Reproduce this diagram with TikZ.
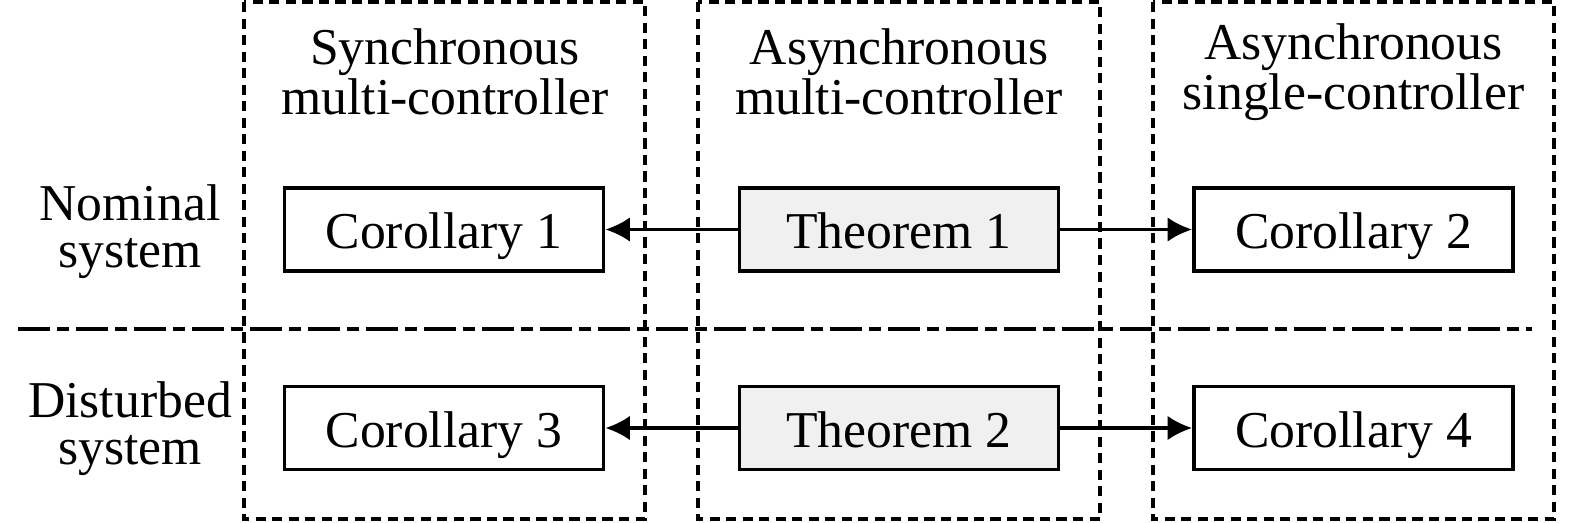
\documentclass[tikz,border=0pt]{standalone}
\usepackage{fontspec}
\setmainfont{Liberation Serif}
\usepackage{tikz}
\usetikzlibrary{arrows.meta,positioning}
\definecolor{theoremgray}{HTML}{F0F0F0}
\tikzset{
  resultbox/.style={draw, line width=1.05pt, minimum width=3.19cm, minimum height=0.83cm, inner sep=0pt, text height=11pt, text depth=0pt, font=\fontsize{14.7}{14.7}\selectfont},
  theorembox/.style={resultbox, fill=theoremgray},
  region/.style={black, line width=1pt, dash pattern=on 2.9pt off 1.8pt},
  divider/.style={black, line width=1pt, dash pattern=on 9.1pt off 2pt on 3.4pt off 2pt},
  implies/.style={black, -{Latex[length=7pt,width=7pt]}, line width=1pt},
  headlabel/.style={align=center, inner sep=0pt, font=\fontsize{14.7}{14.2}\selectfont},
  rowlabel/.style={align=center, inner sep=0pt, font=\fontsize{14.7}{13.4}\selectfont}
}
\begin{document}
\begin{tikzpicture}
  \useasboundingbox (0,0) rectangle (15.75,-5.22);
  % dashed regions and divider
  \draw[region] (2.44,-0.02) rectangle (6.45,-5.19);
  \draw[region] (6.98,-0.02) rectangle (11.00,-5.19);
  \draw[region] (11.53,-0.02) rectangle (15.54,-5.19);
  \draw[divider] (0.18,-3.29)--(15.32,-3.29);
  % column headers
  \node[headlabel] (sync) at (4.45,-0.72) {Synchronous\\multi-controller};
  \node[headlabel] (asyncmulti) at (8.99,-0.72) {Asynchronous\\multi-controller};
  \node[headlabel] (asyncsingle) at (13.535,-0.72) {Asynchronous\\single-controller};
  % row labels
  \node[rowlabel] (nominal) at (1.30,-2.32) {Nominal\\system};
  \node[rowlabel] (disturbed) at (1.30,-4.29) {Disturbed\\system};
  % results
  \node[resultbox] (cor1) at (4.44,-2.295) {Corollary 1};
  \node[theorembox] (thm1) at (8.99,-2.295) {Theorem 1};
  \node[resultbox] (cor2) at (13.535,-2.295) {Corollary 2};
  \node[resultbox] (cor3) at (4.44,-4.28) {Corollary 3};
  \node[theorembox] (thm2) at (8.99,-4.28) {Theorem 2};
  \node[resultbox] (cor4) at (13.535,-4.28) {Corollary 4};
  \draw[implies] (thm1)--(cor1);
  \draw[implies] (thm1)--(cor2);
  \draw[implies] (thm2)--(cor3);
  \draw[implies] (thm2)--(cor4);
\end{tikzpicture}
\end{document}
